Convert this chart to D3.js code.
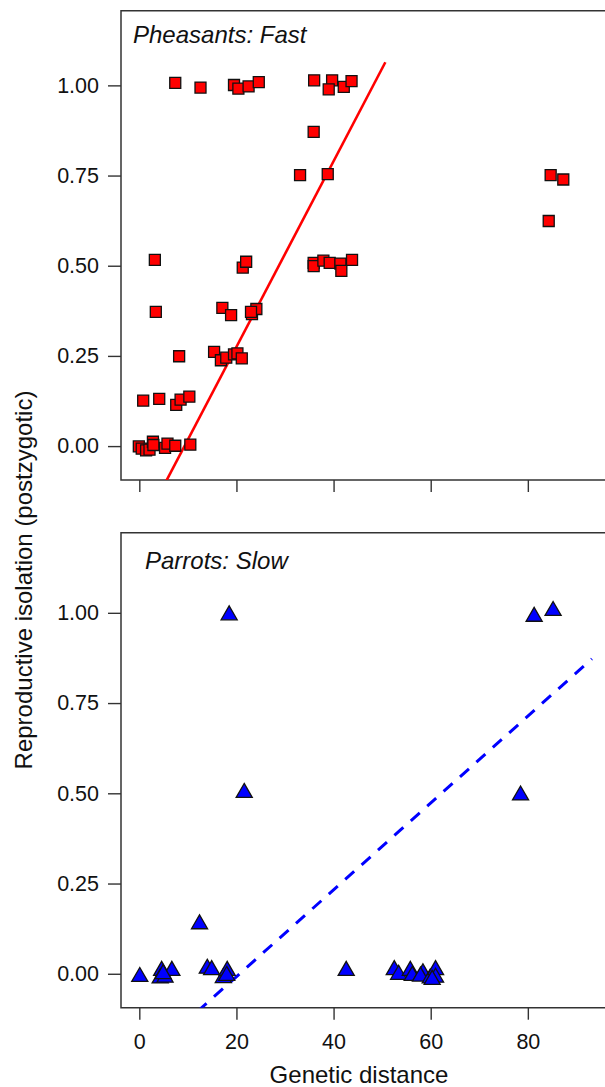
<!DOCTYPE html>
<html>
  <head>
    <meta charset="utf-8" />
    <title>reproductive isolation</title>
    <script src="https://cdn.jsdelivr.net/npm/d3@7"></script>
    <style type="text/css">
      body { margin: 0; background: #fff; }
      text { font-family: 'Liberation Sans', Arial, Helvetica, sans-serif; fill: #111; }
    </style>
  </head>

  <body>
    <svg id="chart" width="605" height="1087"></svg>
    <script type="text/javascript">
      // values
      var xTicks = [0, 20, 40, 60, 80];
      var yTicks = [0, 0.25, 0.5, 0.75, 1];

      var pheasantX = [7.4, 12.6, 19.5, 20.4, 22.5, 24.6, 36.0, 39.7, 39.0, 42.1, 43.7, 35.9,
        33.1, 38.8, 84.7, 87.3, 84.3,
        35.9, 35.9, 37.9, 39.2, 41.4, 41.6, 43.8,
        3.2, 21.3, 22.0,
        3.4, 17.1, 18.9, 23.2, 24.1, 23.0,
        8.2, 15.4, 16.8, 17.9, 19.5, 20.2, 21.1,
        0.8, 4.1, 7.6, 8.5, 10.3,
        -0.1, 0.5, 1.4, 2.1, 2.8, 2.9, 5.3, 5.8, 7.4, 10.5];
      var pheasantY = [1.007, 0.994, 1.001, 0.991, 0.997, 1.009, 1.014, 1.014, 0.989, 0.996, 1.012, 0.871,
        0.751, 0.754, 0.751, 0.739, 0.624,
        0.508, 0.499, 0.514, 0.508, 0.506, 0.486, 0.516,
        0.516, 0.495, 0.511,
        0.372, 0.383, 0.363, 0.366, 0.380, 0.372,
        0.249, 0.261, 0.238, 0.245, 0.254, 0.257, 0.243,
        0.126, 0.131, 0.114, 0.129, 0.137,
        -0.001, -0.007, -0.012, -0.010, 0.012, 0.003, -0.005, 0.007, 0.001, 0.004];

      var parrotX = [18.5, 21.6, 81.3, 85.2, 78.5, 0.1, 12.4,
        4.6, 4.3, 5.3, 6.7, 4.9, 14.0, 14.9, 17.3, 18.1, 18.0,
        42.6, 52.5, 53.4, 55.8, 56.2, 58.4, 57.9, 59.9, 61.0, 61.0, 60.3];
      var parrotY = [1.0, 0.508, 0.996, 1.012, 0.501, -0.002, 0.144,
        0.015, -0.006, -0.004, 0.015, 0.006, 0.021, 0.017, -0.005, 0.015, 0.001,
        0.015, 0.017, 0.004, 0.015, 0.001, 0.008, -0.001, -0.006, 0.017, -0.004, -0.010];

      // fitted lines: intercept, slope, x start, x end
      var pheasantFit = [-0.2394, 0.02573, 5.0, 50.66];
      var parrotFit = [-0.2486, 0.01203, 12.0, 93.2];

      var svg = d3.select('#chart');

      var x = d3.scaleLinear().domain([-3.77, 96.3]).range([121, 607]);

      var panels = [
        { name: 'Pheasants: Fast', top: 10.7, bottom: 480, dom: [-0.094, 1.207],
          xs: pheasantX, ys: pheasantY, fit: pheasantFit, color: '#ff0000',
          shape: 'square', dash: null, tx: 133, ty: 42.5, labels: false },
        { name: 'Parrots: Slow', top: 532.7, bottom: 1007.7, dom: [-0.094, 1.222],
          xs: parrotX, ys: parrotY, fit: parrotFit, color: '#0000ff',
          shape: 'triangle', dash: '12,10', tx: 145, ty: 569, labels: true }
      ];

      panels.forEach(function (p, i) {
        var y = d3.scaleLinear().domain(p.dom).range([p.bottom, p.top]);
        var g = svg.append('g');

        var clipId = 'clip' + i;
        g.append('clipPath').attr('id', clipId)
          .append('rect')
          .attr('x', x.range()[0]).attr('y', p.top)
          .attr('width', x.range()[1] - x.range()[0]).attr('height', p.bottom - p.top);

        // y axis
        var ay = g.append('g')
          .attr('transform', 'translate(' + x.range()[0] + ',0)')
          .call(d3.axisLeft(y).tickValues(yTicks).tickFormat(d3.format('.2f')).tickSize(13).tickPadding(9));
        ay.select('.domain').remove();
        ay.selectAll('.tick line').attr('stroke', '#333').attr('stroke-width', 1.4);
        ay.selectAll('.tick text').style('font-size', '21.5px').attr('fill', '#111');

        // x axis
        var ax = g.append('g')
          .attr('transform', 'translate(0,' + p.bottom + ')')
          .call(d3.axisBottom(x).tickValues(xTicks).tickSize(12).tickPadding(14));
        ax.select('.domain').remove();
        ax.selectAll('.tick line').attr('stroke', '#333').attr('stroke-width', 1.4);
        if (p.labels) {
          ax.selectAll('.tick text').style('font-size', '21.5px').attr('fill', '#111');
        } else {
          ax.selectAll('.tick text').remove();
        }

        // frame: left, top, bottom (right edge falls outside)
        g.append('path')
          .attr('fill', 'none').attr('stroke', '#333').attr('stroke-width', 1.5)
          .attr('d', 'M' + (x.range()[1] + 5) + ',' + p.top + 'H' + x.range()[0] +
            'V' + p.bottom + 'H' + (x.range()[1] + 5));

        // regression line
        var fx = [p.fit[2], p.fit[3]];
        var ln = d3.line()
          .x(function (d) { return x(d); })
          .y(function (d) { return y(p.fit[0] + p.fit[1] * d); });
        g.append('path')
          .attr('clip-path', 'url(#' + clipId + ')')
          .attr('fill', 'none')
          .attr('stroke', p.color)
          .attr('stroke-width', p.dash ? 3 : 2.6)
          .attr('stroke-dasharray', p.dash)
          .attr('d', ln(fx));

        // points
        var pts = p.xs.map(function (v, k) { return [v, p.ys[k]]; });
        var sym = p.shape === 'square'
          ? d3.symbol(d3.symbolSquare, 121)
          : d3.symbol(d3.symbolTriangle, 112);
        var off = p.shape === 'square' ? 0 : 0.5 * Math.sqrt(112 / (3 * Math.sqrt(3)));
        g.append('g').selectAll('path')
          .data(pts)
          .enter()
          .append('path')
          .attr('d', sym)
          .attr('transform', function (d) { return 'translate(' + x(d[0]) + ',' + (y(d[1]) + off) + ')'; })
          .attr('fill', p.color)
          .attr('stroke', '#111')
          .attr('stroke-width', 1.3)
          .attr('stroke-linejoin', 'miter');

        // panel title
        g.append('text')
          .attr('x', p.tx).attr('y', p.ty)
          .style('font-size', '24px').style('font-style', 'italic')
          .text(p.name);
      });

      // axis titles
      svg.append('text')
        .attr('x', 359).attr('y', 1083)
        .attr('text-anchor', 'middle')
        .style('font-size', '24px')
        .text('Genetic distance');

      svg.append('text')
        .attr('transform', 'translate(32,580) rotate(-90)')
        .attr('text-anchor', 'middle')
        .style('font-size', '24px')
        .text('Reproductive isolation (postzygotic)');
    </script>
  </body>
</html>
